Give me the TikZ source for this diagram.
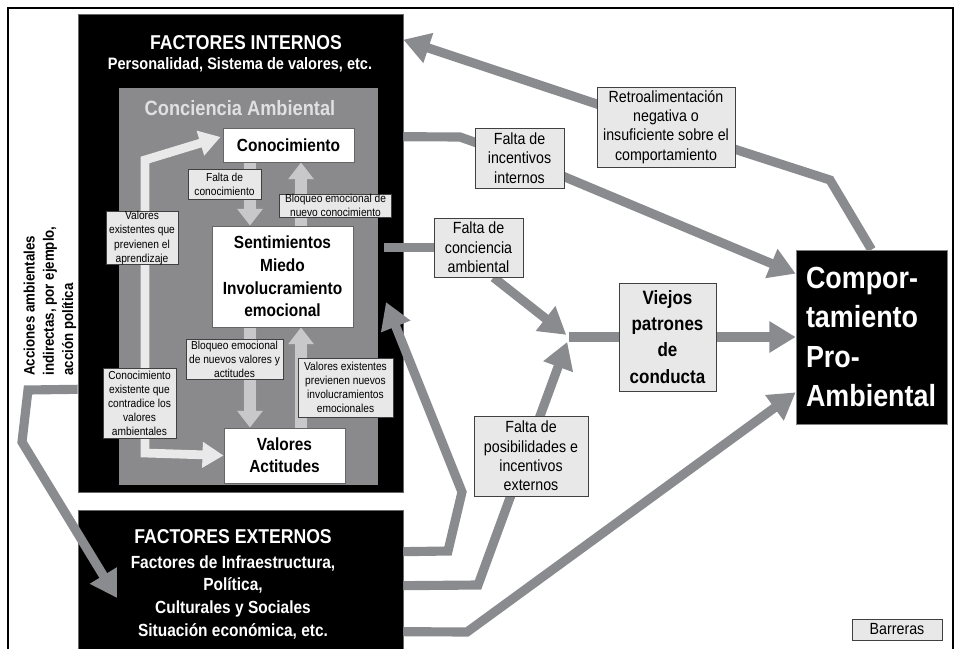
\documentclass[tikz,border=0pt]{standalone}
\usepackage{fontspec}
\setmainfont{Liberation Sans}[FakeStretch=0.88]
\usepackage{xcolor}
\usetikzlibrary{arrows.meta, positioning, calc, backgrounds}
\definecolor{conngray}{RGB}{137,139,143}
\definecolor{panelgray}{RGB}{138,138,140}
\definecolor{blockgray}{RGB}{200,200,202}
\definecolor{labelgray}{RGB}{232,232,232}
\definecolor{paleline}{RGB}{233,233,233}
\pgfdeclarelayer{back}
\pgfdeclarelayer{arrowlayer}
\pgfsetlayers{back,arrowlayer,main}
\tikzstyle{conn} = [draw=conngray, line width=5.2pt, line join=miter, -{Triangle[length=15pt,width=17pt]}]
\tikzstyle{barrier} = [rectangle, draw=black!75, line width=0.5pt, fill=labelgray, align=center, inner sep=0pt, font=\fontsize{9.2}{11}\selectfont]

\begin{document}
\begin{tikzpicture}[
    x=0.02cm, y=-0.02cm,
    blackbox/.style={rectangle, fill=black, draw=black!60, inner sep=0pt},
    whitebox/.style={rectangle, fill=white, draw=black!60, line width=0.5pt, align=center, inner sep=0pt, font=\fontsize{10}{12.9}\selectfont\bfseries},
    smalllabel/.style={barrier, font=\fontsize{6.6}{8}\selectfont},
    blockarrow/.style={draw=blockgray, line width=7.2pt, -{Triangle[length=9.5pt,width=14pt]},
        preaction={draw=black!45, line width=8.4pt, -{Triangle[length=10.5pt,width=15.8pt]}}},
    palearrow/.style={draw=paleline, line width=5pt, line join=miter, {Triangle[length=12pt,width=14pt]}-{Triangle[length=12pt,width=14pt]}},
    title/.style={text=white, font=\fontsize{11.4}{13}\selectfont\bfseries, align=center}
]
\useasboundingbox (0,0) rectangle (955,648);

% Frame
\draw[line width=1pt] (8,660) -- (8,8) -- (953,8) -- (953,660);

% Factores (fondo)
\begin{pgfonlayer}{back}
\node[blackbox, minimum width=6.5cm, minimum height=9.56cm] (intern) at (240.5,253) {};
\node[rectangle, fill=panelgray, inner sep=0pt, minimum width=5.18cm, minimum height=7.94cm] (panel) at (248.5,286.5) {};
\node[blackbox, minimum width=6.5cm, minimum height=3cm] (extern) at (240.5,585) {};
\end{pgfonlayer}

\node[title] (tint) at (246,43) {FACTORES INTERNOS};
\node[title, font=\fontsize{9.4}{11}\selectfont\bfseries] (sint) at (240,65) {Personalidad, Sistema de valores, etc.};
\node[text=black!12, font=\fontsize{11.8}{14}\selectfont\bfseries] (tconc) at (240,108) {Conciencia Ambiental};
\node[title] (text) at (233,537) {FACTORES EXTERNOS};
\node[title, font=\fontsize{10}{12.9}\selectfont\bfseries] (sext) at (233,597) {Factores de Infraestructura,\\Política,\\Culturales y Sociales\\Situación económica, etc.};

% Conciencia ambiental
\node[whitebox, minimum width=2.62cm, minimum height=0.68cm] (cono) at (288.5,145) {Conocimiento};
\node[whitebox, minimum width=2.82cm, minimum height=2.02cm] (senti) at (282.5,276.5) {Sentimientos\\Miedo\\Involucramiento\\emocional};
\node[whitebox, minimum width=2.42cm, minimum height=1.1cm, font=\fontsize{10}{12.3}\selectfont\bfseries] (valact) at (284.5,455.5) {Valores\\Actitudes};

\node[smalllabel, minimum width=1.46cm, minimum height=0.6cm] (lfcono) at (224.5,184) {Falta de\\conocimiento};
\node[smalllabel, minimum width=2.24cm, minimum height=0.46cm] (lbnuevo) at (335.5,205.5) {Bloqueo emocional de\\nuevo conocimiento};
\node[smalllabel, minimum width=1.94cm, minimum height=0.8cm] (lbvalores) at (234.5,359) {Bloqueo emocional\\de nuevos valores y\\actitudes};
\node[smalllabel, minimum width=1.9cm, minimum height=1.18cm] (lvprev) at (345.5,387.5) {Valores existentes\\previenen nuevos\\involucramientos\\emocionales};
\node[smalllabel, minimum width=1.44cm, minimum height=1.0cm] (lvapr) at (142,238) {Valores\\existentes que\\previenen el\\aprendizaje};
\node[smalllabel, minimum width=1.46cm, minimum height=1.4cm] (lccontra) at (139.5,403) {Conocimiento\\existente que\\contradice los\\valores\\ambientales};

\node[rotate=90, align=left, font=\fontsize{8.6}{11}\selectfont\bfseries] (acciones) at (50,301) {Acciones ambientales\\indirectas, por ejemplo,\\acción política};

% Barreras
\node[barrier, minimum width=2.76cm, minimum height=1.6cm] (retro) at (666,127) {Retroalimentación\\negativa o\\insuficiente sobre el\\comportamiento};
\node[barrier, minimum width=1.78cm, minimum height=1.2cm] (fincint) at (519.5,158) {Falta de\\incentivos\\internos};
\node[barrier, minimum width=1.78cm, minimum height=1.18cm] (fconc) at (478.5,247.5) {Falta de\\conciencia\\ambiental};
\node[barrier, minimum width=2.28cm, minimum height=1.6cm] (fposib) at (531,456) {Falta de\\posibilidades e\\incentivos\\externos};
\node[barrier, minimum width=1.94cm, minimum height=2.16cm, font=\fontsize{11}{14.9}\selectfont\bfseries] (viejos) at (667.5,337) {Viejos\\patrones\\de\\conducta};
\node[blackbox, draw=black!50, minimum width=3.02cm, minimum height=3.48cm, text=white, text width=2.62cm, align=left, font=\fontsize{17.4}{22.5}\selectfont\bfseries] (compor) at (871.5,337) {Compor-\\tamiento\\Pro-\\Ambiental};
\node[barrier, minimum width=1.8cm, minimum height=0.42cm] (barreras) at (897,629.5) {Barreras};

% Bends
\coordinate (rk) at (830,180);
\coordinate (ik) at (460,137);
\coordinate (fc0) at (384,247.5);
\coordinate (merge) at (569,337);
\coordinate (e1) at (448,551);
\coordinate (e2) at (462,492);
\coordinate (etip) at (386,302);
\coordinate (f1) at (478,585);
\coordinate (g1) at (467,632);
\coordinate (l1) at (28,390);
\coordinate (l2) at (22,442);
\coordinate (ltip) at (117,598);
\coordinate (dnx) at (250,0);
\coordinate (upx) at (301,0);
\coordinate (w1) at (145,160);
\coordinate (w2) at (145,453);

\begin{pgfonlayer}{arrowlayer}
% Inner arrows
\draw[blockarrow] (cono.south -| dnx) -- (senti.north -| dnx);
\draw[blockarrow] (senti.north -| upx) -- (cono.south -| upx);
\draw[blockarrow] (senti.south -| dnx) -- (valact.north -| dnx);
\draw[blockarrow] (valact.north -| upx) -- (senti.south -| upx);
\draw[palearrow] ($(cono.west)+(-2,-8)$) -- (w1) -- (w2) -- (valact.west);

% Outer arrows
\draw[conn] (compor.north) -- (rk) -- (retro.center) -- ($(intern.north east)+(0,26)$);
\draw[conn] ($(intern.north east)+(0,123)$) -- (ik) -- (fincint.center) -- ($(compor.north west)+(0,24)$);
\draw[conn, -] (fc0) -- (fconc.center);
\draw[conn, shorten >=2pt] ($(fconc.south)+(15,0)$) -- (merge);
\draw[conn, shorten >=3pt] ($(extern.north east)+(0,76)$) -- (f1) -- (merge);
\draw[conn, -] (merge) -- (viejos.west);
\draw[conn] (viejos.east) -- (compor.west);
\draw[conn] ($(extern.north east)+(0,42)$) -- (e1) -- (e2) -- (etip);
\draw[conn] ($(extern.north east)+(0,122)$) -- (g1) -- ($(compor.south west)+(0,-32)$);
\draw[conn] ($(intern.south west)+(0,-103)$) -- (l1) -- (l2) -- (ltip);
\end{pgfonlayer}

\end{tikzpicture}
\end{document}
